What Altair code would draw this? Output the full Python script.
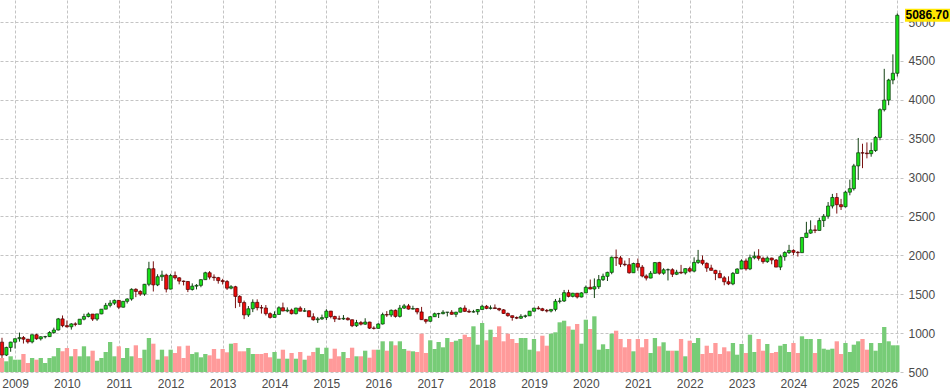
import altair as alt
import pandas as pd

# Monthly gold OHLC, Oct 2008 .. Jan 2026
start_month = "2008-10-01"
opens = [
 884, 718, 816,
 884, 928, 942, 922, 887, 979, 927, 953, 955, 1008, 1040, 1183,
 1096, 1081, 1118, 1113, 1179, 1213, 1245, 1181, 1247, 1308, 1357, 1385,
 1421, 1333, 1409, 1439, 1563, 1536, 1502, 1628, 1828, 1620, 1725, 1746,
 1566, 1740, 1711, 1669, 1664, 1561, 1604, 1614, 1687, 1776, 1720, 1713,
 1675, 1663, 1578, 1596, 1472, 1393, 1234, 1313, 1396, 1327, 1323, 1250,
 1202, 1240, 1326, 1284, 1296, 1250, 1322, 1282, 1287, 1210, 1172, 1183,
 1199, 1283, 1213, 1183, 1182, 1190, 1172, 1095, 1135, 1115, 1142, 1064,
 1061, 1117, 1238, 1233, 1293, 1215, 1322, 1350, 1309, 1316, 1272, 1173,
 1152, 1211, 1249, 1250, 1268, 1269, 1242, 1269, 1322, 1280, 1271, 1275,
 1303, 1345, 1318, 1325, 1316, 1299, 1253, 1224, 1201, 1192, 1215, 1222,
 1282, 1321, 1313, 1292, 1284, 1305, 1409, 1413, 1520, 1472, 1513, 1464,
 1517, 1589, 1567, 1596, 1687, 1730, 1781, 1975, 1967, 1886, 1879, 1776,
 1895, 1848, 1734, 1708, 1769, 1907, 1770, 1814, 1815, 1757, 1783, 1774,
 1829, 1797, 1909, 1937, 1897, 1837, 1807, 1766, 1711, 1660, 1633, 1768,
 1824, 1928, 1826, 1969, 1990, 1962, 1919, 1965, 1940, 1849, 1983, 2036,
 2063, 2039, 2034, 2230, 2286, 2327, 2320, 2447, 2503, 2634, 2744, 2651,
 2625, 2812, 2857, 3150, 3319, 3315, 3307, 3348, 3516, 3873, 3996, 4254,
 4341,
]
highs = [
 940, 825, 889,
 931, 1007, 963, 925, 982, 991, 959, 965, 1025, 1070, 1195, 1227,
 1162, 1128, 1139, 1180, 1249, 1265, 1246, 1247, 1310, 1388, 1424, 1432,
 1425, 1411, 1448, 1576, 1577, 1552, 1632, 1917, 1923, 1757, 1803, 1764,
 1763, 1792, 1720, 1676, 1667, 1640, 1630, 1693, 1789, 1798, 1755, 1723,
 1698, 1682, 1617, 1608, 1488, 1418, 1348, 1434, 1434, 1362, 1361, 1267,
 1280, 1345, 1392, 1331, 1315, 1326, 1345, 1322, 1293, 1255, 1208, 1238,
 1307, 1285, 1224, 1224, 1232, 1205, 1175, 1170, 1156, 1191, 1146, 1088,
 1127, 1263, 1283, 1304, 1304, 1362, 1375, 1375, 1352, 1324, 1337, 1183,
 1220, 1264, 1261, 1295, 1270, 1296, 1274, 1331, 1357, 1306, 1299, 1307,
 1366, 1362, 1356, 1369, 1326, 1309, 1265, 1225, 1214, 1243, 1237, 1284,
 1326, 1347, 1325, 1310, 1306, 1439, 1453, 1555, 1557, 1518, 1516, 1525,
 1611, 1689, 1703, 1747, 1765, 1789, 1985, 2075, 1992, 1933, 1965, 1906,
 1959, 1875, 1755, 1798, 1913, 1917, 1834, 1831, 1834, 1814, 1877, 1832,
 1853, 1974, 2070, 1998, 1910, 1879, 1814, 1807, 1735, 1730, 1786, 1833,
 1949, 1959, 2009, 2048, 2079, 1983, 1987, 1970, 1953, 2009, 2052, 2135,
 2078, 2055, 2235, 2431, 2450, 2387, 2483, 2531, 2685, 2790, 2801, 2726,
 2830, 2974, 3176, 3509, 3435, 3452, 3451, 3534, 3890, 4398, 4270, 4584,
 5110,
]
lows = [
 681, 705, 760,
 802, 890, 866, 865, 868, 914, 905, 932, 950, 991, 1034, 1075,
 1072, 1045, 1088, 1113, 1164, 1202, 1156, 1158, 1243, 1307, 1331, 1361,
 1308, 1330, 1381, 1417, 1462, 1478, 1480, 1603, 1535, 1604, 1671, 1523,
 1562, 1688, 1627, 1613, 1527, 1547, 1562, 1590, 1686, 1690, 1672, 1636,
 1625, 1555, 1563, 1321, 1338, 1180, 1208, 1270, 1292, 1251, 1226, 1187,
 1202, 1238, 1282, 1268, 1240, 1240, 1280, 1273, 1205, 1160, 1131, 1170,
 1167, 1190, 1142, 1170, 1170, 1162, 1077, 1080, 1098, 1107, 1053, 1046,
 1061, 1111, 1208, 1206, 1199, 1200, 1310, 1301, 1303, 1241, 1171, 1123,
 1146, 1208, 1194, 1241, 1214, 1236, 1205, 1267, 1271, 1260, 1264, 1236,
 1303, 1307, 1303, 1310, 1282, 1246, 1211, 1160, 1180, 1182, 1196, 1221,
 1276, 1303, 1281, 1266, 1266, 1280, 1382, 1400, 1459, 1459, 1445, 1459,
 1517, 1563, 1451, 1567, 1670, 1670, 1757, 1863, 1849, 1860, 1764, 1775,
 1802, 1717, 1677, 1705, 1766, 1750, 1751, 1677, 1721, 1746, 1759, 1753,
 1781, 1781, 1890, 1872, 1787, 1805, 1681, 1709, 1615, 1617, 1616, 1766,
 1823, 1804, 1810, 1949, 1933, 1893, 1903, 1885, 1848, 1810, 1931, 2017,
 2001, 1984, 2030, 2228, 2277, 2286, 2319, 2364, 2471, 2603, 2537, 2583,
 2615, 2772, 2833, 2970, 3121, 3247, 3268, 3330, 3480, 3850, 3930, 4200,
 4300,
]
closes = [
 718, 816, 884,
 928, 942, 922, 887, 979, 927, 953, 955, 1008, 1040, 1183, 1096,
 1081, 1118, 1113, 1179, 1213, 1245, 1181, 1247, 1308, 1357, 1385, 1421,
 1333, 1409, 1439, 1563, 1536, 1502, 1628, 1828, 1620, 1725, 1746, 1566,
 1740, 1711, 1669, 1664, 1561, 1604, 1614, 1687, 1776, 1720, 1713, 1675,
 1663, 1578, 1596, 1472, 1393, 1234, 1313, 1396, 1327, 1323, 1250, 1202,
 1240, 1326, 1284, 1296, 1250, 1322, 1282, 1287, 1210, 1172, 1183, 1199,
 1283, 1213, 1183, 1182, 1190, 1172, 1095, 1135, 1115, 1142, 1064, 1061,
 1117, 1238, 1233, 1293, 1215, 1322, 1350, 1309, 1316, 1272, 1173, 1152,
 1211, 1249, 1250, 1268, 1269, 1242, 1269, 1322, 1280, 1271, 1275, 1303,
 1345, 1318, 1325, 1316, 1299, 1253, 1224, 1201, 1192, 1215, 1222, 1282,
 1321, 1313, 1292, 1284, 1305, 1409, 1413, 1520, 1472, 1513, 1464, 1517,
 1589, 1567, 1596, 1687, 1730, 1781, 1975, 1967, 1886, 1879, 1776, 1895,
 1848, 1734, 1708, 1769, 1907, 1770, 1814, 1815, 1757, 1783, 1774, 1829,
 1797, 1909, 1937, 1897, 1837, 1807, 1766, 1711, 1660, 1633, 1768, 1824,
 1928, 1826, 1969, 1990, 1962, 1919, 1965, 1940, 1849, 1983, 2036, 2063,
 2039, 2034, 2230, 2286, 2327, 2320, 2447, 2503, 2634, 2744, 2651, 2625,
 2812, 2857, 3150, 3319, 3315, 3307, 3348, 3516, 3873, 3996, 4254, 4341,
 5086.70,
]
volumes = [
 140, 107, 157,
 123, 123, 180, 90, 140, 123, 140, 90, 140, 157, 240, 207,
 240, 157, 230, 157, 257, 157, 213, 113, 140, 200, 300, 157,
 257, 140, 240, 157, 267, 140, 223, 340, 283, 123, 223, 157,
 223, 190, 257, 140, 263, 180, 197, 147, 180, 167, 230, 133,
 230, 197, 283, 290, 207, 207, 240, 180, 180, 180, 190, 147,
 200, 133, 223, 133, 190, 133, 200, 123, 163, 200, 243, 180,
 243, 133, 233, 157, 200, 140, 243, 157, 157, 213, 143, 223,
 223, 307, 213, 307, 267, 307, 230, 213, 207, 200, 383, 190,
 317, 230, 300, 247, 340, 300, 313, 330, 373, 350, 457, 273,
 490, 317, 423, 350, 457, 307, 383, 330, 290, 340, 340, 223,
 330, 207, 363, 263, 383, 397, 497, 513, 457, 423, 480, 283,
 523, 430, 557, 223, 277, 230, 383, 413, 330, 247, 330, 207,
 330, 247, 330, 190, 340, 257, 297, 213, 213, 213, 330, 157,
 313, 290, 340, 180, 263, 190, 290, 180, 247, 207, 290, 173,
 280, 190, 373, 200, 330, 213, 280, 190, 200, 263, 280, 200,
 290, 190, 357, 330, 330, 190, 330, 233, 223, 233, 307, 180,
 290, 200, 273, 307, 330, 223, 290, 213, 290, 450, 307, 267,
 267,
]
year_ticks = list(range(2009, 2027))
price_ticks = [500, 1000, 1500, 2000, 2500, 3000, 3500, 4000, 4500, 5000]
last_label = "5086.70"

dates = pd.date_range(start_month, periods=len(closes), freq="MS")
df = pd.DataFrame({"date": dates, "open": opens, "high": highs,
                   "low": lows, "close": closes, "volume": volumes})
last = df.tail(1).assign(label=last_label)

FONT = "Arial"
x_scale = alt.Scale(domain=[alt.DateTime(year=2008, month=9, date=17),
                            alt.DateTime(year=2026, month=2, date=10)],
                    padding=0)
x_axis = alt.Axis(values=[alt.DateTime(year=y, month=1, date=1) for y in year_ticks],
                  format="%Y", title=None, grid=True, gridDash=[3, 2],
                  gridColor="#c4c4c4", domain=False, ticks=False,
                  labelFontSize=12, labelColor="#4a4a4a", labelFont=FONT,
                  labelPadding=6, labelFlush=8)
X = alt.X("date:T", scale=x_scale, axis=x_axis)

up = "datum.close >= datum.open"

vol = alt.Chart(df).mark_bar(size=4.3).encode(
    x=X,
    y=alt.Y("volume:Q", scale=alt.Scale(domain=[0, 3720], nice=False), axis=None),
    color=alt.condition(up, alt.value("#77cc77"), alt.value("#ff9a9a")),
)

y_scale = alt.Scale(domain=[500, 5283], nice=False, zero=False)
y_axis = alt.Axis(values=price_ticks, orient="right", title=None, grid=True,
                  format="d",
                  gridDash=[3, 2], gridColor="#c4c4c4", domain=False, ticks=False,
                  labelFontSize=12, labelColor="#4a4a4a", labelFont=FONT,
                  labelPadding=5, labelAlign="left")
Y = alt.Y("low:Q", scale=y_scale, axis=y_axis)

wick = alt.Chart(df).mark_rule(strokeWidth=1).encode(
    x=X,
    y=Y,
    y2="high:Q",
    color=alt.condition(up, alt.value("#124012"), alt.value("#7a1212")),
)
body = alt.Chart(df).mark_bar(size=3.2, strokeWidth=0.7).encode(
    x=X,
    y=alt.Y("open:Q", scale=y_scale, axis=y_axis),
    y2="close:Q",
    fill=alt.condition(up, alt.value("#18e018"), alt.value("#ee0a0a")),
    stroke=alt.condition(up, alt.value("#0a300a"), alt.value("#4a0000")),
)
tag_box = alt.Chart(last).mark_rect(color="#ffe600", yOffset=-6.5, y2Offset=6.5).encode(
    x=alt.value(905), x2=alt.value(950),
    y=alt.Y("close:Q", scale=y_scale, axis=y_axis), y2="close:Q",
)
tag_text = alt.Chart(last).mark_text(align="left", baseline="middle", font=FONT,
                                     fontSize=12, fontWeight="bold", color="#000000").encode(
    x=alt.value(905.5),
    y=alt.Y("close:Q", scale=y_scale, axis=y_axis),
    text="label:N",
)

price = alt.layer(wick, body, tag_box, tag_text)

chart = alt.layer(vol, price).resolve_scale(y="independent").properties(
    width=903, height=372,
    autosize=alt.AutoSizeParams(type="none"),
    padding={"left": 0, "top": 0, "right": 47, "bottom": 20},
    background="#ffffff",
).configure_view(stroke=None)

chart.save("out.html", embed_options={"renderer": "svg", "actions": False})
